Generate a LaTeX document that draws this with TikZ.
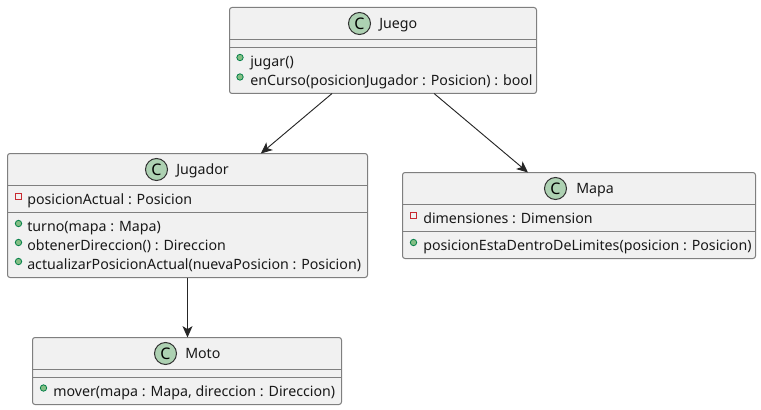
\documentclass[tikz,border=0pt]{standalone}
\usepackage{fontspec}
\setmainfont{Noto Sans}
\usetikzlibrary{arrows.meta}
\definecolor{boxfill}{HTML}{F1F1F1}
\definecolor{boxline}{HTML}{7F7F7F}
\definecolor{iconfill}{HTML}{ADD1B2}
\definecolor{pubfill}{HTML}{84BE84}
\definecolor{publine}{HTML}{038048}
\definecolor{privline}{HTML}{C82930}
\tikzset{
  x=0.75pt,y=-0.75pt,
  classbox/.style={draw=boxline,fill=boxfill,line width=0.75pt,rounded corners=1.9pt,inner sep=0pt,outer sep=0pt,minimum width=#1*0.75pt},
  member/.style={anchor=base west,inner sep=0pt,font=\fontsize{10.65pt}{12pt}\selectfont,text=black!90},
  title/.style={anchor=base west,inner sep=0pt,font=\fontsize{10.65pt}{12pt}\selectfont,text=black!90},
  sepline/.style={draw=boxline,line width=0.75pt},
  cicon/.style={circle,draw=black!80,fill=iconfill,line width=0.75pt,minimum size=16.5pt,inner sep=0pt,font=\fontsize{12pt}{12pt}\selectfont\bfseries},
  pubicon/.style={circle,draw=publine,fill=pubfill,line width=0.6pt,minimum size=4.8pt,inner sep=0pt},
  privicon/.style={rectangle,draw=privline,fill=none,line width=0.6pt,minimum size=4.8pt,inner sep=0pt},
  conn/.style={draw=black!85,line width=0.7pt,-{Stealth[length=8.5pt,width=7.5pt,inset=2.2pt]},shorten >=0pt}
}
\begin{document}
\begin{tikzpicture}
\useasboundingbox (0,0) rectangle (761,410);
% classes
\node[classbox=307,minimum height=64.5pt] (juego) at (383,50.5) {};
\node[classbox=360,minimum height=93pt] (jugador) at (187.5,215.5) {};
\node[classbox=353,minimum height=64.5pt] (mapa) at (579,215.5) {};
\node[classbox=309,minimum height=50.25pt] (moto) at (187,371) {};
% separators
\draw[sepline] (229.5,39.5) -- (536.5,39.5) (229.5,47.5) -- (536.5,47.5);
\draw[sepline] (7.5,185.5) -- (367.5,185.5) (7.5,212.5) -- (367.5,212.5);
\draw[sepline] (402.5,204.5) -- (755.5,204.5) (402.5,231.5) -- (755.5,231.5);
\draw[sepline] (32.5,369.5) -- (341.5,369.5) (32.5,377.5) -- (341.5,377.5);
% title icons and titles
\node[cicon] (cjuego) at (359.5,23.5) {C};
\node[title] (tjuego) at (379,29) {Juego};
\node[cicon] (cjugador) at (156.5,169.5) {C};
\node[title] (tjugador) at (176,174.5) {Jugador};
\node[cicon] (cmapa) at (555.5,188.5) {C};
\node[title] (tmapa) at (576,193.5) {Mapa};
\node[cicon] (cmoto) at (165.5,353.5) {C};
\node[title] (tmoto) at (185,358.5) {Moto};
% Juego members
\node[pubicon] (p1) at (240,57.5) {};
\node[member] (m1) at (250,66.5) {jugar()};
\node[pubicon] (p2) at (240,77) {};
\node[member] (m2) at (250,85.5) {enCurso(posicionJugador : Posicion) : bool};
% Jugador members
\node[privicon] (p3) at (18.5,196.5) {};
\node[member] (m3) at (27,204.5) {posicionActual : Posicion};
\node[pubicon] (p4) at (18.5,223.5) {};
\node[member] (m4) at (27,231.5) {turno(mapa : Mapa)};
\node[pubicon] (p5) at (18.5,242.5) {};
\node[member] (m5) at (27,250.5) {obtenerDireccion() : Direccion};
\node[pubicon] (p6) at (18.5,261.5) {};
\node[member] (m6) at (27,269.5) {actualizarPosicionActual(nuevaPosicion : Posicion)};
% Mapa members
\node[privicon] (p7) at (413.5,215.5) {};
\node[member] (m7) at (423,223.5) {dimensiones : Dimension};
\node[pubicon] (p8) at (413.5,242.5) {};
\node[member] (m8) at (423,250.5) {posicionEstaDentroDeLimites(posicion : Posicion)};
% Moto members
\node[pubicon] (p9) at (43.5,388) {};
\node[member] (m9) at (53,396) {mover(mapa : Mapa, direccion : Direccion)};
% connectors
\draw[conn] (juego) -- (jugador);
\draw[conn] (juego) -- (mapa);
\draw[conn] (jugador) -- (jugador |- moto.north);
\end{tikzpicture}
\end{document}
